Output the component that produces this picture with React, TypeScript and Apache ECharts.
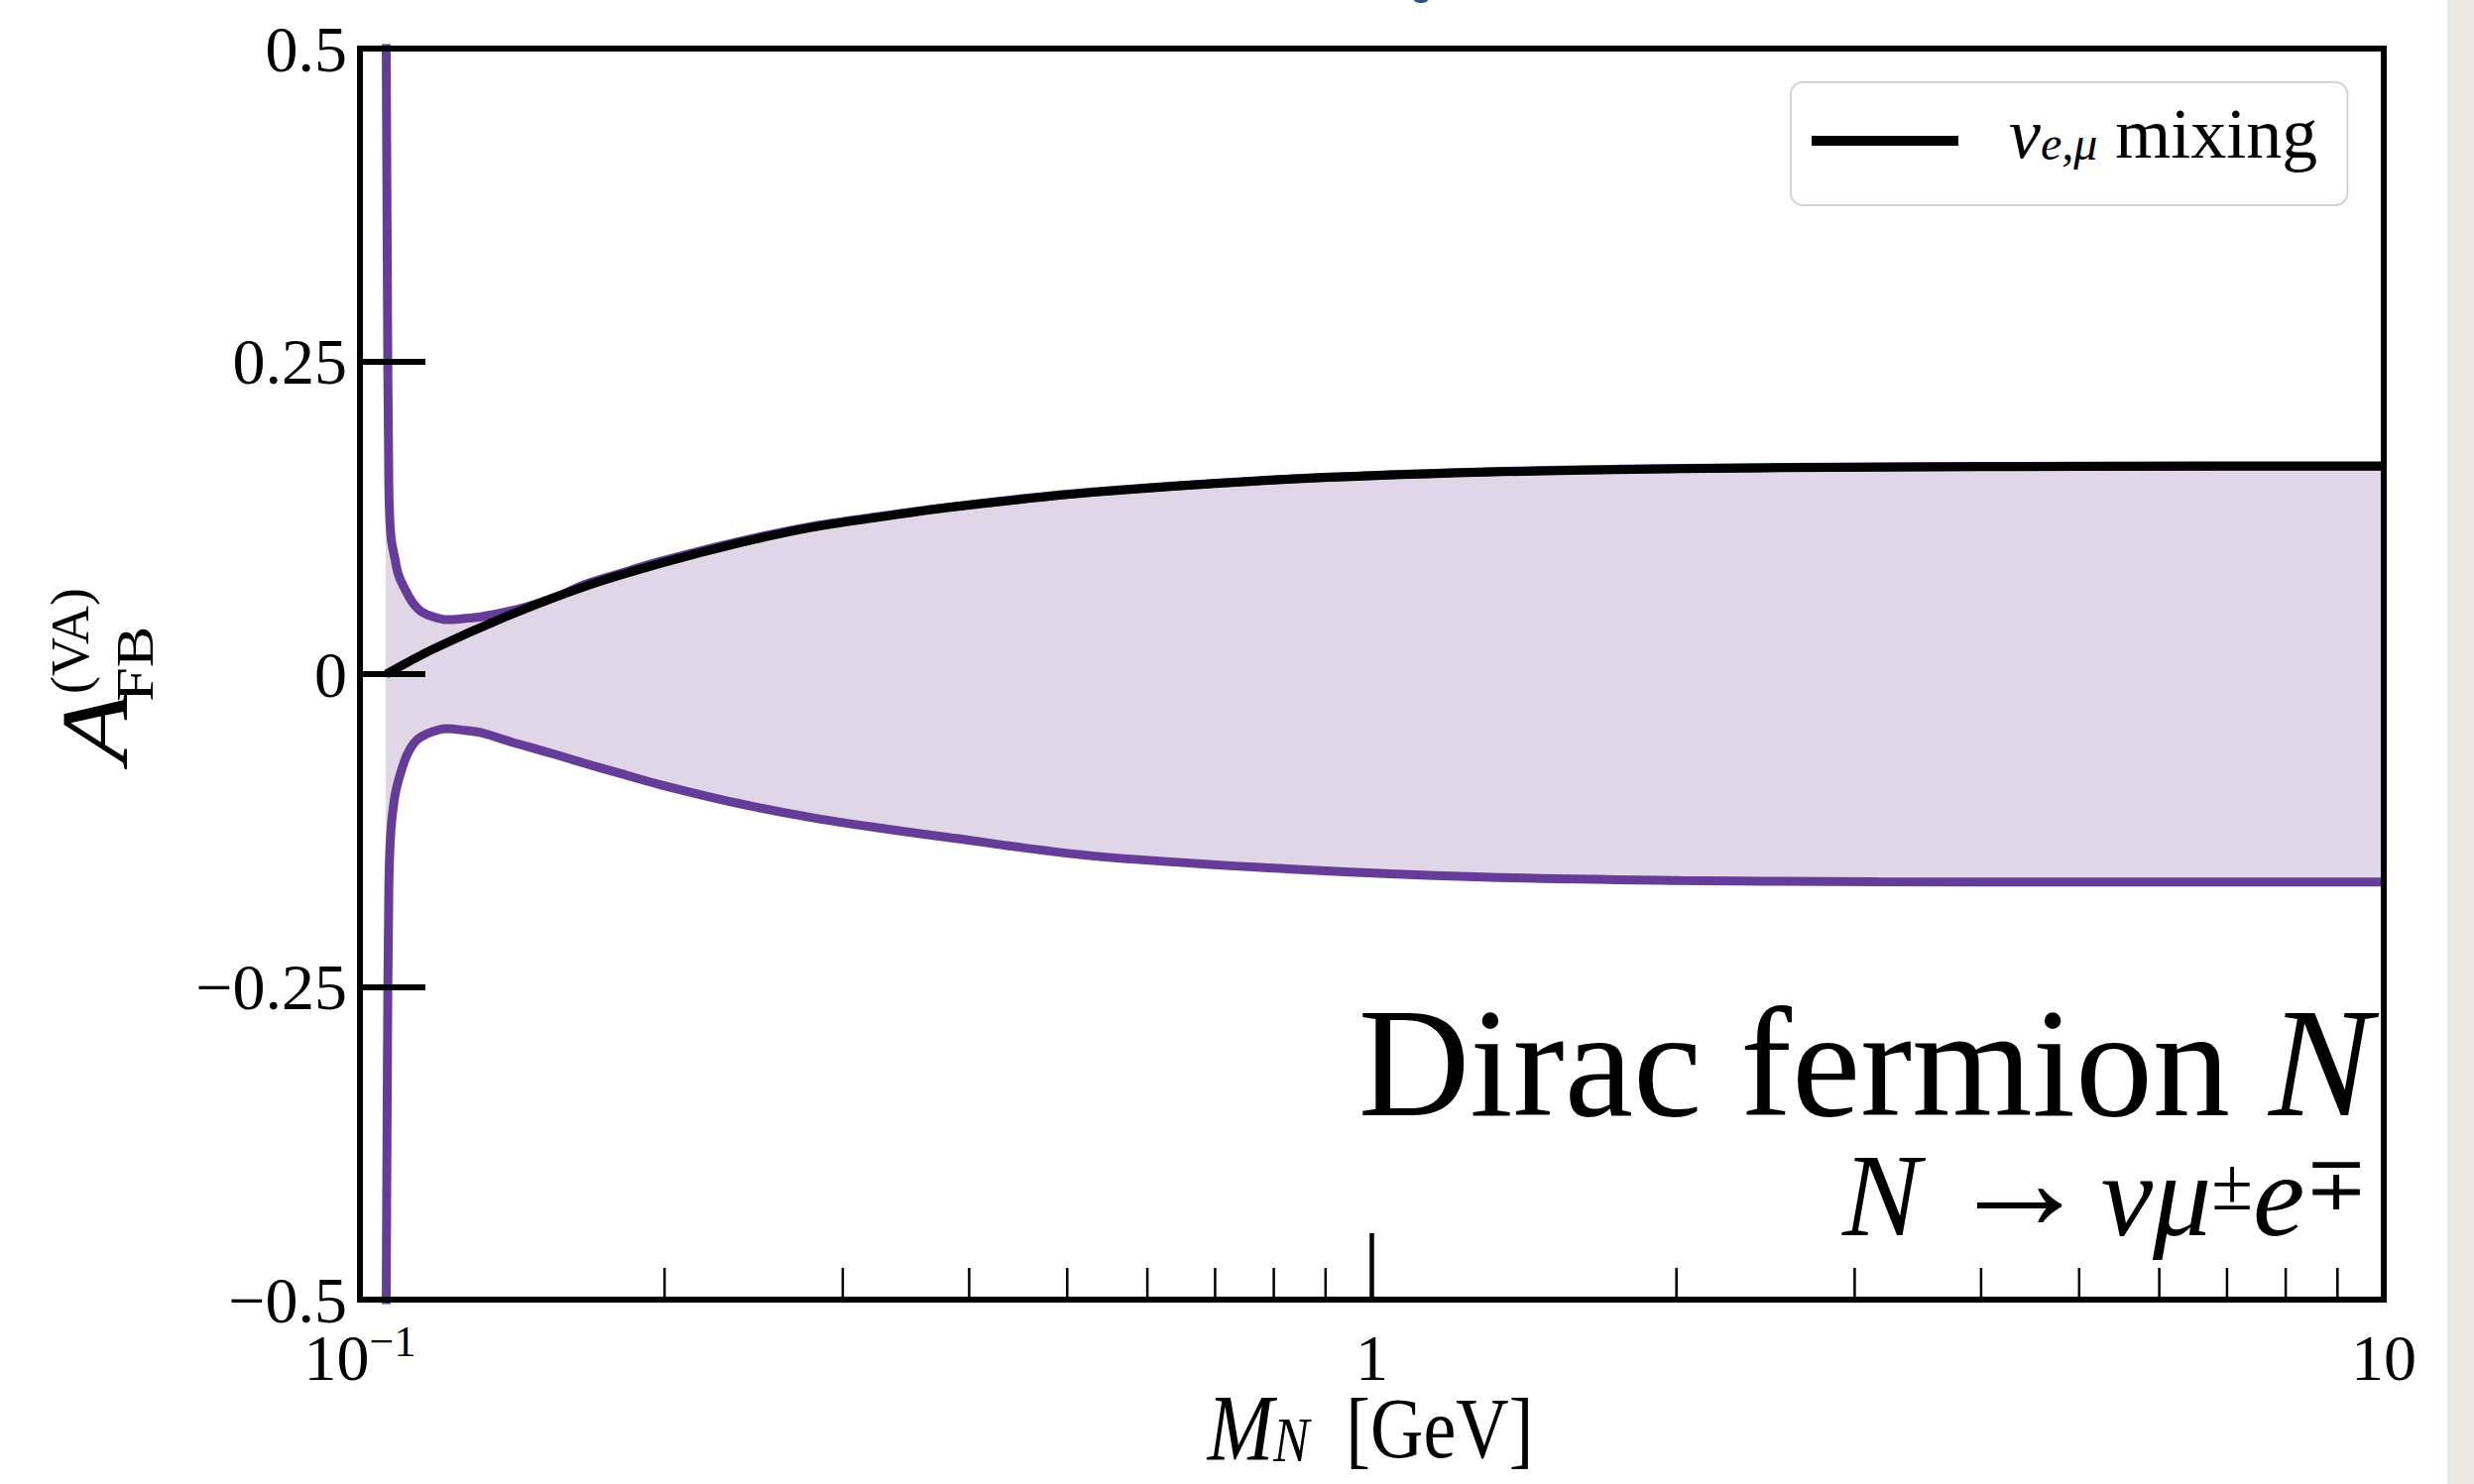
import React, { useEffect, useRef } from 'react';
import * as echarts from 'echarts';

// ---------------- data ----------------
// Heavy-neutrino mass grid for the allowed band [GeV]
const massGrid = [0.1060, 0.1064, 0.1068, 0.1073, 0.1083, 0.1092, 0.1111, 0.1130, 0.1150, 0.1180, 0.1217, 0.1270, 0.1321, 0.1409, 0.1465, 0.1571, 0.1667, 0.1800, 0.1980, 0.2355, 0.2800, 0.3327, 0.3846, 0.5260, 0.8245, 1.292, 2.020, 3.170, 4.970, 10.0];
// Upper edge of the band
const upperBand = [0.62, 0.34, 0.15, 0.11, 0.092, 0.079, 0.066, 0.056, 0.050, 0.046, 0.0435, 0.0445, 0.046, 0.0505, 0.054, 0.0625, 0.0715, 0.080, 0.0900, 0.1055, 0.1182, 0.1270, 0.1338, 0.1454, 0.1559, 0.1617, 0.1644, 0.1657, 0.1662, 0.1664];
// Lower edge of the band
const lowerBand = [-0.62, -0.34, -0.17, -0.125, -0.097, -0.0845, -0.066, -0.0554, -0.050, -0.046, -0.0435, -0.045, -0.047, -0.0541, -0.058, -0.065, -0.0713, -0.079, -0.0884, -0.103, -0.1148, -0.124, -0.131, -0.1451, -0.1557, -0.1623, -0.165, -0.166, -0.1662, -0.1663];
// nu_{e,mu} mixing curve
const mixingMass = [0.1062, 0.1180, 0.1409, 0.1667, 0.1980, 0.2355, 0.2800, 0.3327, 0.3846, 0.5260, 0.8245, 1.292, 2.020, 3.170, 4.970, 10.0];
const mixingValues = [0, 0.0198, 0.0475, 0.0700, 0.0884, 0.1043, 0.1174, 0.1265, 0.1335, 0.1451, 0.1557, 0.1615, 0.1642, 0.1655, 0.1660, 0.1662];

const yTickValues = [-0.5, -0.25, 0, 0.25, 0.5];
const yTickLabels = ['\u22120.5', '\u22120.25', '0', '0.25', '0.5'];
const xTickValues = [0.1, 1, 10];
const xTickLabels = ['{b|10}{s|\u22121}', '{b|1}', '{b|10}'];
const minorTickValues = [0.2, 0.3, 0.4, 0.5, 0.6, 0.7, 0.8, 0.9, 2, 3, 4, 5, 6, 7, 8, 9];

const MIX_NAME = '\u03bde,\u03bc mixing';

// ---------------- styles ----------------
const SERIF = "'Liberation Serif', 'DejaVu Serif', serif";
const PURPLE = '#653c97';
const FILL = '#e1d6e7';

export default function App() {
  const ref = useRef<HTMLDivElement>(null);

  useEffect(() => {
    if (!ref.current) return;
    const chart = echarts.init(ref.current, undefined, { renderer: 'svg' });

    const upperLine = massGrid.map((m, i) => [m, upperBand[i]]);
    const lowerLine = massGrid.map((m, i) => [m, lowerBand[i]]);
    const mixingLine = mixingMass.map((m, i) => [m, mixingValues[i]]);

    const axisLineStyle = { color: '#000', width: 6, cap: 'square' as const };

    const option: any = {
      animation: false,
      backgroundColor: '#fff',
      grid: { left: 363, top: 49, width: 2041, height: 1262, containLabel: false },
      legend: {
        show: true,
        data: [{ name: MIX_NAME, icon: 'rect' }],
        left: 1806,
        top: 83,
        padding: [16, 30, 36, 21],
        itemWidth: 148,
        itemHeight: 10,
        backgroundColor: '#fff',
        borderColor: '#d4d4d4',
        borderWidth: 2,
        borderRadius: 12,
        selectedMode: false,
        formatter: () => '{nu|\u03bd}{sub|e,\u03bc}{t| mixing}',
        textStyle: {
          color: '#000',
          fontFamily: SERIF,
          fontSize: 72,
          padding: [0, 0, 14, 0],
          rich: {
            nu: { fontFamily: SERIF, fontStyle: 'italic', fontSize: 72, lineHeight: 66, padding: [0, 0, 0, 46], color: '#000' },
            sub: { fontFamily: SERIF, fontStyle: 'italic', fontSize: 48, lineHeight: 16, verticalAlign: 'bottom', color: '#000' },
            t: { fontFamily: SERIF, fontSize: 72, lineHeight: 66, color: '#000' },
          },
        },
      },
      xAxis: [
        {
          type: 'log',
          logBase: 10,
          min: 0.1,
          max: 10,
          position: 'bottom',
          z: 10,
          axisLine: { show: true, onZero: false, lineStyle: axisLineStyle },
          axisTick: { show: true, inside: true, length: 67, lineStyle: { color: '#000', width: 4.5 } },
          minorTick: { show: false },
          splitLine: { show: false },
          axisLabel: {
            margin: 20,
            color: '#000',
            fontFamily: SERIF,
            fontSize: 66,
            formatter: (v: number) => {
              const i = xTickValues.findIndex((t) => Math.abs(Math.log10(t) - Math.log10(v)) < 1e-6);
              return i >= 0 ? xTickLabels[i] : '';
            },
            rich: {
              b: { fontFamily: SERIF, fontSize: 66, lineHeight: 76, color: '#000' },
              s: { fontFamily: SERIF, fontSize: 44, lineHeight: 46, verticalAlign: 'top', color: '#000' },
            },
          },
        },
        {
          type: 'log',
          logBase: 10,
          min: 0.1,
          max: 10,
          position: 'top',
          z: 10,
          axisLine: { show: true, onZero: false, lineStyle: axisLineStyle },
          axisTick: { show: false },
          axisLabel: { show: false },
          splitLine: { show: false },
        },
      ],
      yAxis: [
        {
          type: 'value',
          min: -0.5,
          max: 0.5,
          interval: 0.25,
          position: 'left',
          z: 10,
          axisLine: { show: true, onZero: false, lineStyle: axisLineStyle },
          axisTick: { show: true, inside: true, length: 66, lineStyle: { color: '#000', width: 6 } },
          splitLine: { show: false },
          axisLabel: {
            margin: 13,
            color: '#000',
            fontFamily: SERIF,
            fontSize: 66,
            formatter: (v: number) => {
              const i = yTickValues.findIndex((t) => Math.abs(t - v) < 1e-9);
              return i >= 0 ? yTickLabels[i] : '';
            },
          },
        },
        {
          type: 'value',
          min: -0.5,
          max: 0.5,
          interval: 0.25,
          position: 'right',
          z: 10,
          axisLine: { show: true, onZero: false, lineStyle: axisLineStyle },
          axisTick: { show: false },
          axisLabel: { show: false },
          splitLine: { show: false },
        },
      ],
      series: [
        {
          type: 'line',
          name: 'upper',
          data: upperLine,
          symbol: 'none',
          smooth: 0.35,
          lineStyle: { color: PURPLE, width: 9 },
          areaStyle: { color: FILL, opacity: 1, origin: 0 },
          silent: true,
          z: 3,
        },
        {
          type: 'line',
          name: 'lower',
          data: lowerLine,
          symbol: 'none',
          smooth: 0.35,
          lineStyle: { color: PURPLE, width: 9 },
          areaStyle: { color: FILL, opacity: 1, origin: 0 },
          silent: true,
          z: 3,
        },
        {
          type: 'line',
          name: MIX_NAME,
          data: mixingLine,
          symbol: 'none',
          smooth: 0.3,
          color: '#000',
          itemStyle: { color: '#000' },
          lineStyle: { color: '#000', width: 9 },
          silent: true,
          z: 4,
        },
        {
          type: 'custom',
          name: 'minorTicks',
          data: minorTickValues.map((v) => [v, -0.5]),
          encode: { x: 0, y: 1 },
          clip: false,
          silent: true,
          z: 11,
          renderItem: (params: any, api: any) => {
            const p = api.coord([api.value(0), api.value(1)]);
            return {
              type: 'line',
              shape: { x1: p[0], y1: p[1], x2: p[0], y2: p[1] - 32 },
              style: { stroke: '#000', lineWidth: 2.5 },
            };
          },
        },
      ],
      graphic: [
        // strip of page background at the right edge
        { type: 'rect', left: 2468, top: 0, shape: { x: 0, y: 0, width: 27, height: 1497 }, style: { fill: '#ebe9e4' }, silent: true },
        // tiny cut-off glyph at the very top
        { type: 'ellipse', x: 1433, y: 0, shape: { cx: 0, cy: 0, rx: 7, ry: 3 }, style: { fill: '#34527e' }, silent: true },
        // Dirac fermion N
        {
          type: 'text',
          x: 2392,
          y: 1072,
          silent: true,
          style: {
            text: '{r|Dirac fermion }{i|N}',
            align: 'right',
            verticalAlign: 'middle',
            fill: '#000',
            rich: {
              r: { fontFamily: SERIF, fontSize: 156, lineHeight: 140, fill: '#000' },
              i: { fontFamily: SERIF, fontSize: 156, fontStyle: 'italic', lineHeight: 140, fill: '#000' },
            },
          },
        },
        // N -> nu mu^± e^∓
        {
          type: 'text',
          x: 2388,
          y: 1206,
          silent: true,
          style: {
            text: '{it|N}{rm|\u2192}{it|\u03bd\u03bc}{sup|\u00b1}{it|e}{sup|\u2213}',
            align: 'right',
            verticalAlign: 'middle',
            fill: '#000',
            rich: {
              it: { fontFamily: SERIF, fontSize: 118, fontStyle: 'italic', lineHeight: 100, fill: '#000' },
              rm: { fontFamily: SERIF, fontSize: 144, lineHeight: 70, padding: [0, 10, 30, 28], fill: '#000' },
              sup: { fontFamily: SERIF, fontSize: 76, lineHeight: 60, verticalAlign: 'top', fill: '#000' },
            },
          },
        },
        // y-axis title A_FB^(VA)
        {
          type: 'group',
          x: 128,
          y: 770,
          rotation: Math.PI / 2,
          silent: true,
          children: [
            {
              type: 'text',
              x: 0,
              y: -32,
              scaleX: 1.2,
              style: { text: 'A', font: `italic 96px ${SERIF}`, fill: '#000', align: 'left', verticalAlign: 'middle' },
            },
            {
              type: 'text',
              x: 62,
              y: 8,
              scaleX: 1.2,
              style: { text: 'FB', font: `52px ${SERIF}`, fill: '#000', align: 'left', verticalAlign: 'middle' },
            },
            {
              type: 'text',
              x: 70,
              y: -57,
              style: { text: '(VA)', font: `54px ${SERIF}`, fill: '#000', align: 'left', verticalAlign: 'middle' },
            },
          ],
        },
        // x-axis title M_N [GeV]
        {
          type: 'text',
          x: 1382,
          y: 1441,
          scaleY: 1.18,
          silent: true,
          style: {
            text: '{m|M}{n|N}{g|  [GeV]}',
            align: 'center',
            verticalAlign: 'middle',
            fill: '#000',
            rich: {
              m: { fontFamily: SERIF, fontStyle: 'italic', fontSize: 80, lineHeight: 74, fill: '#000' },
              n: { fontFamily: SERIF, fontStyle: 'italic', fontSize: 54, lineHeight: 50, verticalAlign: 'bottom', fill: '#000' },
              g: { fontFamily: SERIF, fontSize: 74, lineHeight: 74, fill: '#000' },
            },
          },
        },
      ],
    };

    chart.setOption(option);
    return () => chart.dispose();
  }, []);

  return (
    <div
      ref={ref}
      style={{ position: 'absolute', left: 0, top: 0, width: 2495, height: 1497, background: '#fff' }}
    />
  );
}
